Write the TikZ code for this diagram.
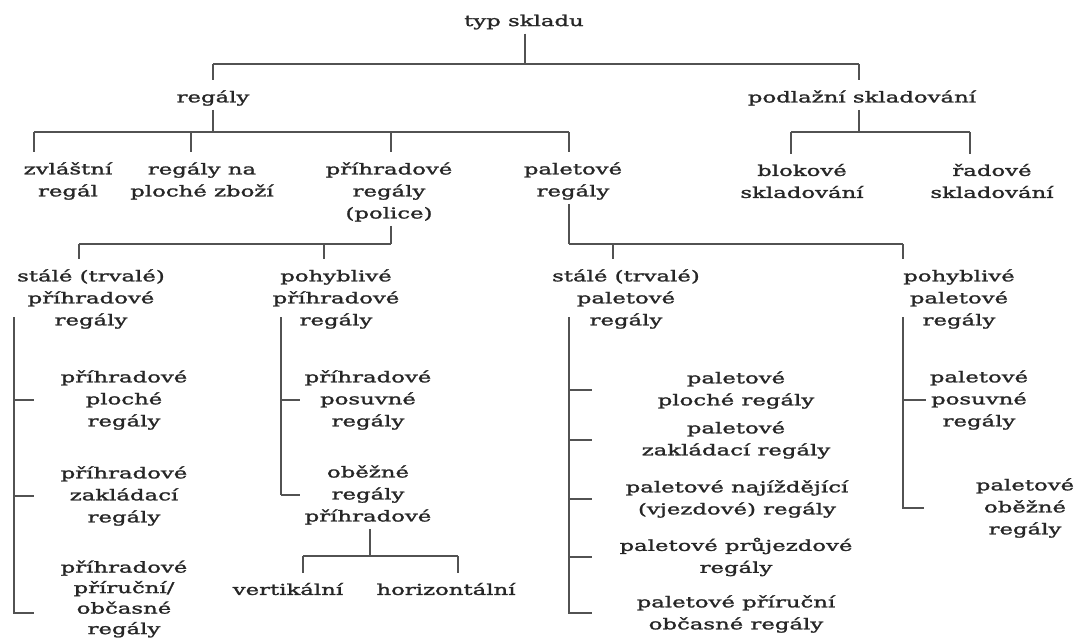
\documentclass[tikz,border=0pt]{standalone}
\usepackage{fontspec}
\setmainfont{DejaVu Serif}[FakeStretch=1.52,FakeBold=1.6]
\begin{document}
\begin{tikzpicture}[x=1pt,y=-1pt,
  lbl/.style={align=center,inner sep=0pt,text=black!85,font=\fontsize{15}{22}\selectfont},
  ln/.style={draw=black!68,line width=2pt},
  tick/.style={ln,shorten >=10pt}]
\useasboundingbox (0,0) rectangle (1080,640);
\fill[white] (0,0) rectangle (1080,640);

% ---------- nodes ----------
\node[lbl] (typ) at (524,22) {typ skladu};
\node[lbl] (regaly) at (213,98) {regály};
\node[lbl] (podl) at (862,98) {podlažní skladování};
\node[lbl] (zvl) at (68,181) {zvláštní\\regál};
\node[lbl] (plo) at (202,181) {regály na\\ploché zboží};
\node[lbl] (prih) at (389,192) {příhradové\\regály\\(police)};
\node[lbl] (pal) at (573,181) {paletové\\regály};
\node[lbl] (blok) at (802,181) {blokové\\skladování};
\node[lbl] (rad) at (992,181) {řadové\\skladování};
\node[lbl] (sprih) at (91,299) {stálé (trvalé)\\příhradové\\regály};
\node[lbl] (pprih) at (336,299) {pohyblivé\\příhradové\\regály};
\node[lbl] (spal) at (626,299) {stálé (trvalé)\\paletové\\regály};
\node[lbl] (ppal) at (959,299) {pohyblivé\\paletové\\regály};
\node[lbl] (a1) at (124,400) {příhradové\\ploché\\regály};
\node[lbl] (a2) at (124,496) {příhradové\\zakládací\\regály};
\node[lbl,font=\fontsize{15}{20.5}\selectfont] (a3) at (124,599) {příhradové\\příruční/\\občasné\\regály};
\node[lbl] (p1) at (368,400) {příhradové\\posuvné\\regály};
\node[lbl] (p2) at (368,495) {oběžné\\regály\\příhradové};
\node[lbl] (vert) at (288,589) {vertikální};
\node[lbl] (hor) at (446,589) {horizontální};
\node[lbl] (c1) at (736,390) {paletové\\ploché regály};
\node[lbl] (c2) at (736,440) {paletové\\zakládací regály};
\node[lbl] (c3) at (737,499) {paletové najíždějící\\(vjezdové) regály};
\node[lbl] (c4) at (736,557) {paletové průjezdové\\regály};
\node[lbl] (c5) at (736,614) {paletové příruční\\občasné regály};
\node[lbl] (d1) at (979,400) {paletové\\posuvné\\regály};
\node[lbl] (d2) at (1025,508) {paletové\\oběžné\\regály};

% ---------- junction coordinates ----------
\coordinate (j0) at (525,64);
\coordinate (j1) at (213,132);
\coordinate (j2) at (859,132);
\coordinate (j3) at (391,244);
\coordinate (j4) at (569,244);
\coordinate (j5) at (370,556);
\coordinate (t1) at (34,132);
\coordinate (t2) at (191,132);
\coordinate (t3) at (391,132);
\coordinate (t4) at (569,132);
\coordinate (t5) at (791,132);
\coordinate (t6) at (970,132);
\coordinate (t7) at (79,244);
\coordinate (t8) at (324,244);
\coordinate (t9) at (613,244);
\coordinate (t10) at (903,244);
\coordinate (t11) at (303,556);
\coordinate (t12) at (458,556);
\coordinate (r1) at (14,317);
\coordinate (r1e) at (14,613);
\coordinate (r2) at (281,317);
\coordinate (r3) at (569,317);
\coordinate (r3e) at (569,613);
\coordinate (r4) at (903,317);

% ---------- connectors ----------
% typ skladu
\draw[ln,shorten <=4pt] (j0 |- typ.south) -- (j0);
\draw[ln] (j0 -| regaly) -- (j0 -| j2);
\draw[tick] (j0 -| regaly) -- (regaly.north);
\draw[tick] (j0 -| j2) -- (j2 |- podl.north);

% regály
\draw[ln,shorten <=4pt] (j1 |- regaly.south) -- (j1);
\draw[ln] (t1) -- (t4);
\draw[tick] (t1) -- (t1 |- zvl.north);
\draw[tick] (t2) -- (t2 |- plo.north);
\draw[tick] (t3) -- (t3 |- prih.north);
\draw[tick] (t4) -- (t4 |- pal.north);

% podlažní skladování
\draw[ln,shorten <=4pt] (j2 |- podl.south) -- (j2);
\draw[ln] (t5) -- (t6);
\draw[tick] (t5) -- (t5 |- blok.north);
\draw[tick] (t6) -- (t6 |- rad.north);

% příhradové regály (police)
\draw[ln,shorten <=4pt] (j3 |- prih.south) -- (j3);
\draw[ln] (t7) -- (j3);
\draw[tick] (t7) -- (t7 |- sprih.north);
\draw[tick] (t8) -- (t8 |- pprih.north);

% paletové regály
\draw[ln,shorten <=4pt] (j4 |- pal.south) -- (j4);
\draw[ln] (j4) -- (t10);
\draw[tick] (t9) -- (t9 |- spal.north);
\draw[tick] (t10) -- (t10 |- ppal.north);

% stálé příhradové
\draw[ln] (r1) -- (r1e) -- ++(20,0);
\draw[ln] (r1 |- a1) -- ++(20,0);
\draw[ln] (r1 |- a2) -- ++(20,0);

% pohyblivé příhradové
\draw[ln] (r2) -- (r2 |- p2);
\draw[ln,shorten >=4pt] (r2 |- p1) -- (p1.west);
\draw[ln,shorten >=4pt] (r2 |- p2) -- (p2.west);

% oběžné regály příhradové
\draw[ln,shorten <=4pt] (j5 |- p2.south) -- (j5);
\draw[ln] (t11) -- (t12);
\draw[tick] (t11) -- (t11 |- vert.north);
\draw[tick] (t12) -- (t12 |- hor.north);

% stálé paletové
\draw[ln] (r3) -- (r3e) -- ++(23,0);
\draw[ln] (r3 |- c1) -- ++(23,0);
\draw[ln] (r3 |- c2) -- ++(23,0);
\draw[ln] (r3 |- c3) -- ++(23,0);
\draw[ln] (r3 |- c4) -- ++(23,0);

% pohyblivé paletové
\draw[ln] (r4) -- (r4 |- d2) -- ++(21,0);
\draw[ln] (r4 |- d1) -- ++(23,0);
\end{tikzpicture}
\end{document}
